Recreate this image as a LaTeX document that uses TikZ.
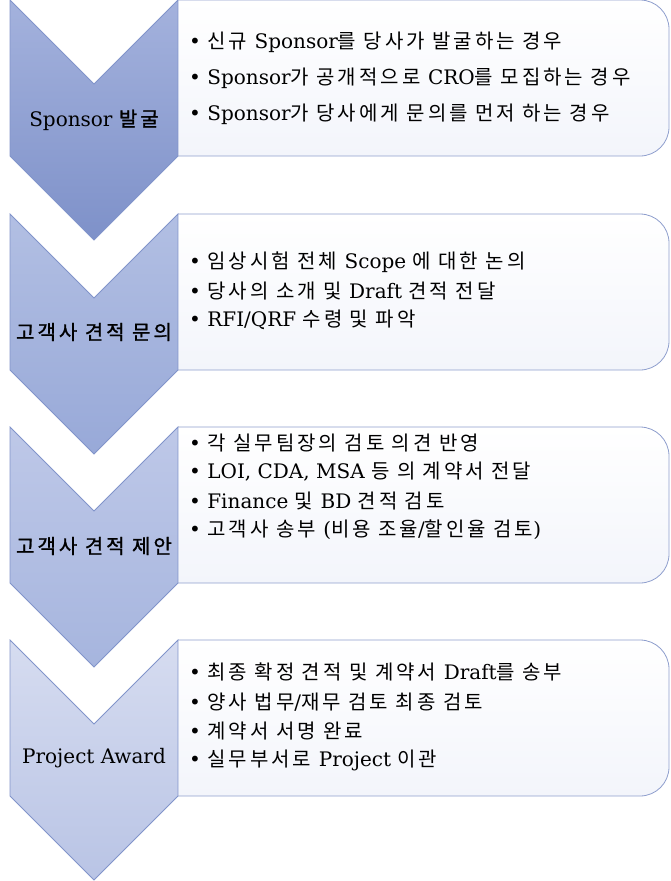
\documentclass[tikz,border=0pt]{standalone}
\usepackage{fontspec}
\setmainfont{DejaVu Serif}
\newfontfamily\krfont{Noto Sans CJK KR}[LetterSpace=15]
\newfontfamily\krheavy{Noto Sans CJK KR}[LetterSpace=15, FakeBold=1.2]
% Hangul syllables go to the Korean font, the rest stays in the main font
\XeTeXinterchartokenstate=1
\newXeTeXintercharclass\krclass
\newcount\krcode
\krcode="AC00
\loop \XeTeXcharclass\krcode=\krclass \ifnum\krcode<"D7A3 \advance\krcode by 1 \repeat
\XeTeXinterchartoks 0 \krclass = {\krfont}
\XeTeXinterchartoks 4095 \krclass = {\krfont}
\XeTeXinterchartoks \krclass 0 = {\rmfamily}
\XeTeXinterchartoks 4095 0 = {\rmfamily}

\definecolor{chevline}{HTML}{8194CA}
\definecolor{cardline}{HTML}{8E9ECD}
\definecolor{cardfill}{HTML}{F3F5FB}
\definecolor{chevAtop}{HTML}{A4B2DD}
\definecolor{chevAbot}{HTML}{7E91C9}
\definecolor{chevBtop}{HTML}{B2BFE3}
\definecolor{chevBbot}{HTML}{98A9D8}
\definecolor{chevCtop}{HTML}{BEC8E8}
\definecolor{chevCbot}{HTML}{A6B5DE}
\definecolor{chevDtop}{HTML}{D6DCF0}
\definecolor{chevDbot}{HTML}{B9C4E5}

\begin{document}
\begin{tikzpicture}[x=1pt, y=-1pt,
  chev/.style={draw=chevline, line width=0.8pt},
  card/.style={draw=cardline, line width=0.8pt, top color=white, bottom color=cardfill, rounded corners=29pt},
  bul/.style={black, right, inner sep=0pt, font=\fontsize{20}{24}\selectfont},
  tag/.style={black, inner sep=0pt, font=\fontsize{20}{24}\selectfont\let\krfont\krheavy}]
\useasboundingbox (0,0) rectangle (671,881);

% cards
\path[card] (178,0) -- (669,0) -- (669,156) -- (178,156);
\path[card] (178,214) -- (669,214) -- (669,370) -- (178,370);
\path[card] (178,427) -- (669,427) -- (669,583) -- (178,583);
\path[card] (178,640) -- (669,640) -- (669,796) -- (178,796);

% chevrons
\path[chev, top color=chevAtop, bottom color=chevAbot] (10,0) -- (94,84) -- (178,0) -- (178,156) -- (94,240) -- (10,156) -- cycle;
\path[chev, top color=chevBtop, bottom color=chevBbot] (10,214) -- (94,298) -- (178,214) -- (178,370) -- (94,454) -- (10,370) -- cycle;
\path[chev, top color=chevCtop, bottom color=chevCbot] (10,427) -- (94,511) -- (178,427) -- (178,583) -- (94,667) -- (10,583) -- cycle;
\path[chev, top color=chevDtop, bottom color=chevDbot] (10,640) -- (94,724) -- (178,640) -- (178,796) -- (94,880) -- (10,796) -- cycle;

% stage names
\node[tag] (sponsor) at (94,120){Sponsor 발굴};
\node[tag] (inquiry) at (94,332){고객사 견적 문의};
\node[tag] (proposal) at (94,546){고객사 견적 제안};
\node[tag] (award) at (94,758){Project Award};

% Sponsor
\node[bul] (sponsor1) at (189,42){\textbullet\ 신규 Sponsor를 당사가 발굴하는 경우};
\node[bul] (sponsor2) at (189,78){\textbullet\ Sponsor가 공개적으로 CRO를 모집하는 경우};
\node[bul] (sponsor3) at (189,114){\textbullet\ Sponsor가 당사에게 문의를 먼저 하는 경우};

% inquiry
\node[bul] (inquiry1) at (189,262){\textbullet\ 임상시험 전체 Scope 에 대한 논의};
\node[bul] (inquiry2) at (189,291){\textbullet\ 당사의 소개 및 Draft 견적 전달};
\node[bul] (inquiry3) at (189,320){\textbullet\ RFI/QRF 수령 및 파악};

% proposal
\node[bul] (proposal1) at (189,443){\textbullet\ 각 실무팀장의 검토 의견 반영};
\node[bul] (proposal2) at (189,472){\textbullet\ LOI, CDA, MSA 등 의 계약서 전달};
\node[bul] (proposal3) at (189,501){\textbullet\ Finance 및 BD 견적 검토};
\node[bul] (proposal4) at (189,530){\textbullet\ 고객사 송부 (비용 조율/할인율 검토)};

% award
\node[bul] (award1) at (189,672){\textbullet\ 최종 확정 견적 및 계약서 Draft를 송부};
\node[bul] (award2) at (189,702){\textbullet\ 양사 법무/재무 검토 최종 검토};
\node[bul] (award3) at (189,731){\textbullet\ 계약서 서명 완료};
\node[bul] (award4) at (189,760){\textbullet\ 실무부서로 Project 이관};
\end{tikzpicture}
\end{document}
